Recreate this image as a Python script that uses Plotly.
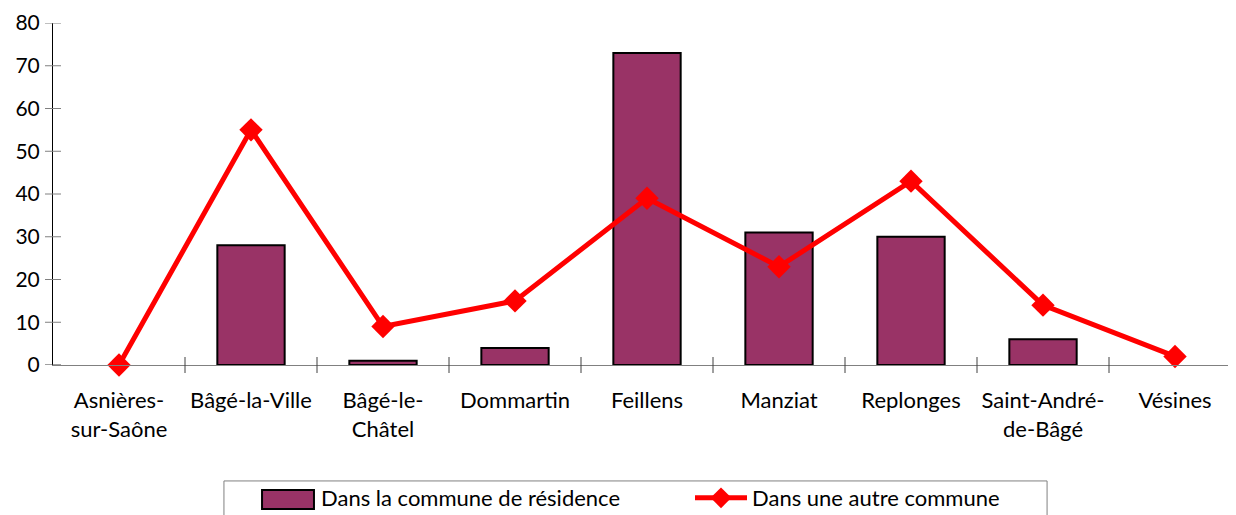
import plotly.graph_objects as go

categories = ["Asnières-<br>sur-Saône", "Bâgé-la-Ville", "Bâgé-le-<br>Châtel", "Dommartin",
              "Feillens", "Manziat", "Replonges", "Saint-André-<br>de-Bâgé", "Vésines"]
residence = [0, 28, 1, 4, 73, 31, 30, 6, 0]
autre = [0, 55, 9, 15, 39, 23, 43, 14, 2]
y_ticks = [0, 10, 20, 30, 40, 50, 60, 70, 80]

FONT = "Lato"
FS = 22
BAR_COLOR = "#993366"
W, H = 1228, 507  # page body adds an 8px offset
xs = list(range(len(categories)))
fig = go.Figure()
fig.add_trace(go.Bar(
    x=xs, y=residence, name="Dans la commune de résidence",
    marker=dict(color=BAR_COLOR, line=dict(color="black", width=[0 if v == 0 else 2 for v in residence])),
    width=0.51,
))
fig.add_trace(go.Scatter(
    x=xs, y=autre, name="Dans une autre commune",
    mode="lines+markers", line=dict(color="#FF0000", width=5),
    marker=dict(symbol="diamond", size=18, color="#FF0000"), cliponaxis=False,
))
fig.update_layout(
    width=W, height=H,
    margin=dict(l=45, r=0, t=15, b=150, autoexpand=False),
    plot_bgcolor="white", paper_bgcolor="white",
    font=dict(family=FONT, size=FS, color="black"),
    showlegend=True,
    legend=dict(orientation="h", x=251 / W, xanchor="left", xref="container",
                y=1 - 469 / H, yanchor="top", yref="container",
                borderwidth=0, bgcolor="rgba(0,0,0,0)", font=dict(size=FS),
                entrywidth=364, itemwidth=52, traceorder="normal"),
)
# legend frame
fig.add_shape(type="rect", xref="paper", yref="paper", x0=0.1445, x1=0.8403, y0=-0.339, y1=-0.47,
              line=dict(color="#808080", width=1), fillcolor="rgba(0,0,0,0)", layer="below")
# wider legend swatch for the bar series (Excel style)
fig.add_shape(type="rect", xref="paper", yref="paper", x0=0.1767, x1=0.2206, y0=-0.3655, y1=-0.421,
              line=dict(color="black", width=2), fillcolor=BAR_COLOR, layer="above")
fig.update_xaxes(
    tickmode="array", tickvals=xs, ticktext=categories,
    range=[-0.5, 8.462], showline=True, linecolor="#808080", linewidth=1,
    ticks="", showgrid=False, zeroline=False, tickangle=0, ticklabelstandoff=16,
)
fig.update_yaxes(
    range=[0, 80], tickvals=y_ticks, showline=True, linecolor="black", linewidth=1,
    ticks="", showgrid=False, zeroline=False, ticklabelstandoff=8, tickfont=dict(size=21),
)
# category boundary ticks (crossing the axis)
for i in range(1, len(categories)):
    fig.add_shape(type="line", xref="x", yref="paper", ysizemode="pixel", yanchor=0,
                  x0=i - 0.5, x1=i - 0.5, y0=-8, y1=8, line=dict(color="#404040", width=1))
# value ticks (crossing the axis)
for t in y_ticks:
    fig.add_shape(type="line", xref="paper", yref="y", xsizemode="pixel", xanchor=0,
                  x0=-8, x1=8, y0=t, y1=t, line=dict(color="#808080" if t else "#404040", width=1))
fig.write_html("out.html")
